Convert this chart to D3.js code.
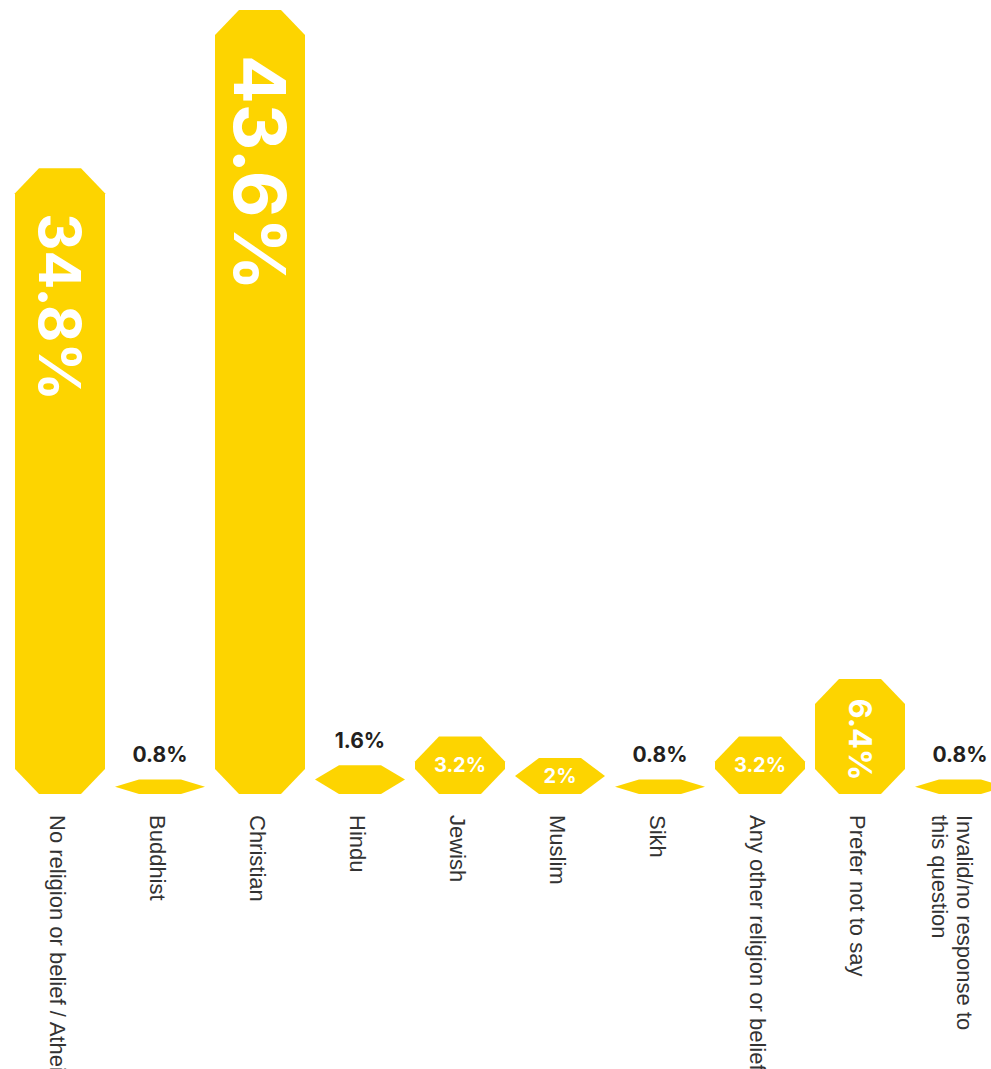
<!DOCTYPE html>
<html>
<head>
<meta charset="utf-8">
<script src="https://cdn.jsdelivr.net/npm/d3@7"></script>
<style>
  html, body { margin: 0; padding: 0; background: #fff; overflow: hidden; }
</style>
</head>
<body>
<div id="plot"></div>
<script>
// data
const categories = ["No religion or belief / Atheist", "Buddhist", "Christian", "Hindu", "Jewish",
                    "Muslim", "Sikh", "Any other religion or belief", "Prefer not to say",
                    "Invalid/no response to|this question"];
const values = [34.8, 0.8, 43.6, 1.6, 3.2, 2, 0.8, 3.2, 6.4, 0.8];
const valueLabels = ["34.8%", "0.8%", "43.6%", "1.6%", "3.2%", "2%", "0.8%", "3.2%", "6.4%", "0.8%"];

const w = 991;
const h = 1100;
const baseY = 794;
const topY = 10;
const yellow = "#FDD400";

const rows = categories.map((c, i) => ({cat: c, value: values[i], label: valueLabels[i]}));

const xScale = d3.scaleBand()
    .domain(categories)
    .range([15, 1005])
    .paddingInner(0.1)
    .paddingOuter(0);

const yScale = d3.scaleLinear()
    .domain([0, d3.max(values)])
    .range([baseY, topY]);

const svg = d3.select("#plot")
  .append("svg")
    .attr("width", w)
    .attr("height", h)
    .style("display", "block");

// bar shape with cut corners
function barPath(d) {
  const x0 = xScale(d.cat);
  const bw = xScale.bandwidth();
  const y0 = yScale(d.value);
  const bh = baseY - y0;
  const cx = 24;
  const cy = Math.min(25, bh / 2);
  const p = d3.path();
  p.moveTo(x0 + cx, y0);
  p.lineTo(x0 + bw - cx, y0);
  p.lineTo(x0 + bw, y0 + cy);
  p.lineTo(x0 + bw, y0 + bh - cy);
  p.lineTo(x0 + bw - cx, y0 + bh);
  p.lineTo(x0 + cx, y0 + bh);
  p.lineTo(x0, y0 + bh - cy);
  p.lineTo(x0, y0 + cy);
  p.closePath();
  return p.toString();
}

svg.append("g")
    .attr("class", "bars")
  .selectAll("path")
  .data(rows)
  .join("path")
    .attr("d", barPath)
    .attr("fill", yellow);

// value labels
const labels = svg.append("g")
    .attr("class", "values")
    .attr("font-family", "Inter, 'Open Sans', sans-serif")
    .attr("font-weight", 700);

rows.forEach(d => {
  const cx = xScale(d.cat) + xScale.bandwidth() / 2;
  const y0 = yScale(d.value);
  const bh = baseY - y0;
  if (bh > 100) {
    const fs = Math.max(31, bh * 0.092);
    labels.append("text")
        .attr("transform", `translate(${cx}, ${y0 + Math.min(45, bh * 0.17)}) rotate(90)`)
        .attr("dy", "0.36em")
        .attr("font-size", fs)
        .attr("fill", "#fff")
        .text(d.label);
  } else if (bh >= 35) {
    labels.append("text")
        .attr("x", cx)
        .attr("y", y0 + bh / 2)
        .attr("dy", "0.36em")
        .attr("text-anchor", "middle")
        .attr("font-size", 20)
        .attr("fill", "#fff")
        .text(d.label);
  } else {
    labels.append("text")
        .attr("x", cx)
        .attr("y", y0 - 17.5)
        .attr("text-anchor", "middle")
        .attr("font-size", 21)
        .attr("fill", "#231f20")
        .text(d.label);
  }
});

// category labels, rotated
const cats = svg.append("g")
    .attr("class", "cats")
    .attr("font-family", "'Liberation Sans', Arial, sans-serif")
    .attr("font-size", 22)
    .attr("fill", "#333");

rows.forEach(d => {
  const cx = xScale(d.cat) + xScale.bandwidth() / 2;
  const lines = d.cat.split("|");
  const t = cats.append("text")
      .attr("transform", `translate(${cx + (lines.length > 1 ? 5 : -2)}, 815) rotate(90)`);
  lines.forEach((ln, i) => {
    t.append("tspan")
        .attr("x", 0)
        .attr("y", i * 25)
        .attr("dy", "0.36em")
        .text(ln);
  });
});
</script>
</body>
</html>
